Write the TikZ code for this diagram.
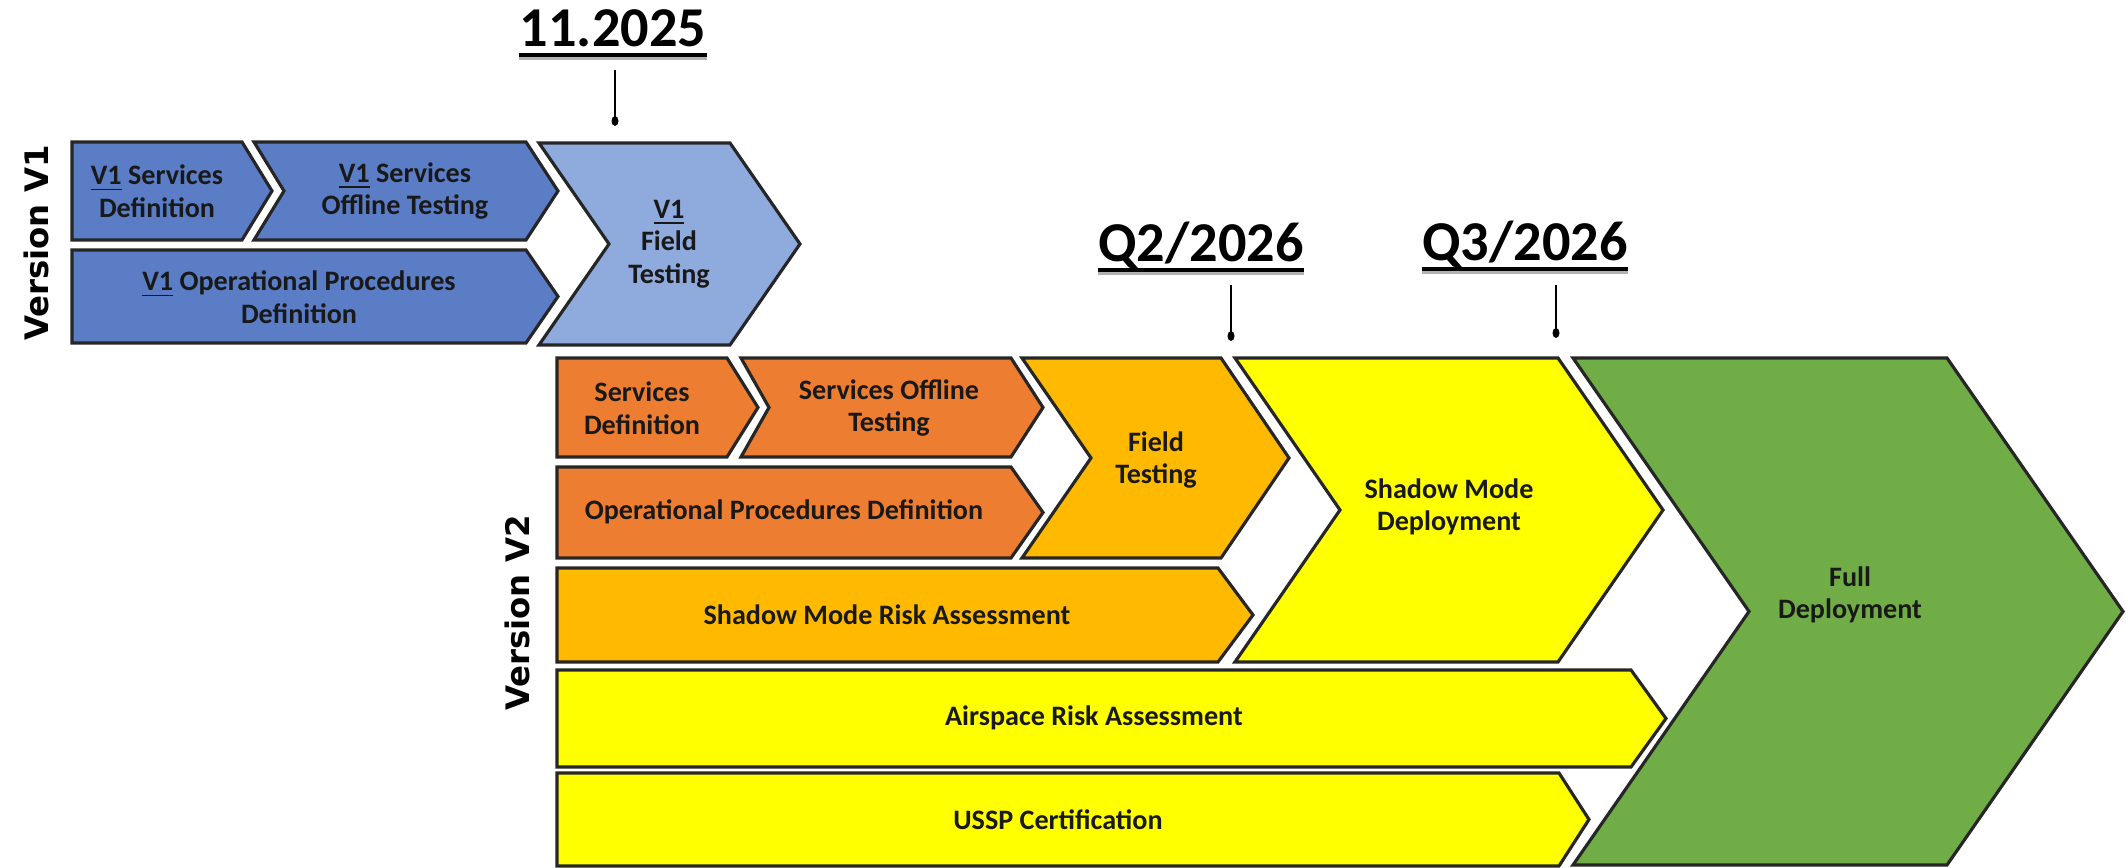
\documentclass[tikz,border=0pt]{standalone}
\usepackage{fontspec}
\setmainfont{Carlito}
\newfontfamily\verfont{DejaVu Sans}
\definecolor{vonedark}{HTML}{5A7DC6}
\definecolor{vonelight}{HTML}{8FAADC}
\definecolor{orng}{HTML}{ED7D31}
\definecolor{ambr}{HTML}{FFBA00}
\definecolor{yell}{HTML}{FFFF00}
\definecolor{grn}{HTML}{70AD47}
% #1 style, #2 left x, #3 notch depth, #4 top-right x, #5 tip depth, #6 top y, #7 bottom y
\newcommand\chevshape[7]{%
  \draw[#1] (#2,#6) -- (#4,#6) -- ({#4+#5},{(#6+#7)/2}) -- (#4,#7) -- (#2,#7) -- ({#2+#3},{(#6+#7)/2}) -- cycle;}
\begin{document}
\begin{tikzpicture}[x=0.01cm,y=-0.01cm,
  shp/.style={draw=black!85, line width=0.9pt, line join=miter},
  bdark/.style={shp, fill=vonedark},
  blight/.style={shp, fill=vonelight},
  orstyle/.style={shp, fill=orng},
  amstyle/.style={shp, fill=ambr},
  yestyle/.style={shp, fill=yell},
  grstyle/.style={shp, fill=grn},
  lbl/.style={font=\fontsize{8}{9.3}\selectfont\bfseries, align=center, text=black!90, inner sep=0pt},
  datelbl/.style={font=\fontsize{16}{18}\selectfont\bfseries, inner sep=0pt, anchor=base},
  ticks/.style={line width=0.6pt},
  verlbl/.style={font=\verfont\bfseries\fontsize{9.2}{11}\selectfont, rotate=90, inner sep=0pt}]
\useasboundingbox (0,0) rectangle (2126,868);

% ---- Version V1 ----
\node[verlbl] (verone) at (36,243) {Version V1};
\chevshape{bdark}{72}{0}{242}{30}{142}{240}
\chevshape{bdark}{254}{30}{526}{32}{142}{240}
\chevshape{bdark}{72}{0}{526}{32}{250}{343}
\chevshape{blight}{539}{70}{730}{70}{143}{345}
\node[lbl] (vonesd) at (157,191) {\underline{V1} Services\\Definition};
\node[lbl] (vonesot) at (405,191) {\underline{V1} Services\\Offline Testing};
\node[lbl] (voneop) at (299,297) {\underline{V1} Operational Procedures\\Definition};
\node[lbl] (voneft) at (669,244) {\underline{V1}\\Field\\Testing};

% ---- Version V2 ----
\node[verlbl] (vertwo) at (517,613) {Version V2};
\chevshape{orstyle}{557}{0}{727}{31}{358}{457}
\chevshape{orstyle}{741}{28}{1011}{32}{358}{457}
\chevshape{orstyle}{557}{0}{1011}{32}{467}{558}
\chevshape{amstyle}{1022}{69}{1221}{68}{358}{558}
\chevshape{amstyle}{557}{0}{1218}{35}{568}{662}
\chevshape{yestyle}{1235}{105}{1558}{105}{358}{662}
\chevshape{yestyle}{557}{0}{1631}{35}{670}{767}
\chevshape{yestyle}{557}{0}{1559}{30}{773}{866}
\chevshape{grstyle}{1573}{176}{1947}{176}{358}{865}
\node[lbl] (sdef) at (642,408) {Services\\Definition};
\node[lbl] (sot) at (889,408) {Services Offline\\Testing};
\node[lbl] (opd) at (784,512) {Operational Procedures Definition};
\node[lbl] (ft) at (1156,460) {Field\\Testing};
\node[lbl] (smra) at (887,615) {Shadow Mode Risk Assessment};
\node[lbl] (smd) at (1449,507) {Shadow Mode\\Deployment};
\node[lbl] (ara) at (1094,718) {Airspace Risk Assessment};
\node[lbl] (ussp) at (1058,820) {USSP Certification};
\node[lbl] (full) at (1850,595) {Full\\Deployment};

% ---- Dates ----
\node[datelbl] (dA) at (613,47) {11.2025};
\node[datelbl] (dB) at (1201,262) {Q2/2026};
\node[datelbl] (dC) at (1525,261) {Q3/2026};
\foreach \n in {dA,dB,dC}{
  \draw[line width=1pt] ([yshift=-0.08cm]\n.base west) -- ([yshift=-0.08cm]\n.base east);
  \draw[black!30, line width=0.8pt] ([yshift=-0.115cm]\n.base west) -- ([yshift=-0.115cm]\n.base east);
}
\coordinate (tAa) at (615,70);  \coordinate (tAb) at (615,121);
\coordinate (tBa) at (1231,285); \coordinate (tBb) at (1231,336);
\coordinate (tCa) at (1556,285); \coordinate (tCb) at (1556,333);
\draw[ticks] (tAa) -- (tAb);
\draw[ticks] (tBa) -- (tBb);
\draw[ticks] (tCa) -- (tCb);
\fill (tAb) ellipse [x radius=0.035cm, y radius=0.05cm];
\fill (tBb) ellipse [x radius=0.035cm, y radius=0.05cm];
\fill (tCb) ellipse [x radius=0.035cm, y radius=0.05cm];
\end{tikzpicture}
\end{document}
